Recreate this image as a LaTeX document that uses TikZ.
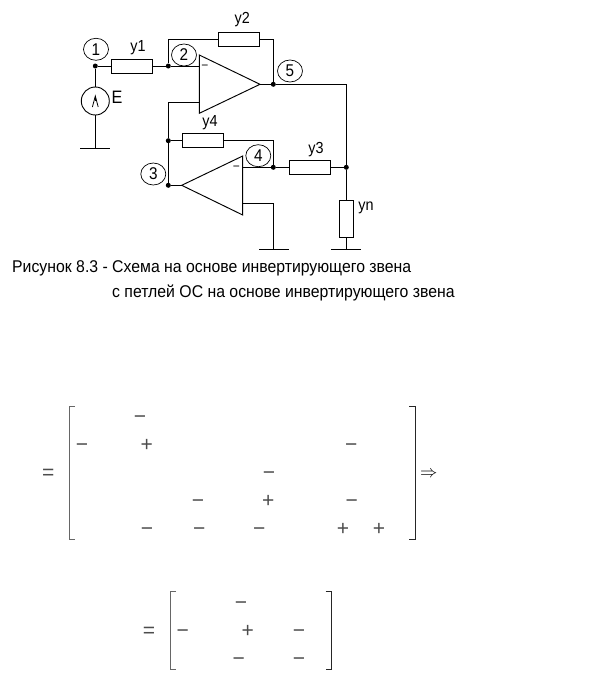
\documentclass[tikz,border=0pt]{standalone}
\usepackage{xcolor}
\usepackage{fontspec}
\setmainfont{Liberation Sans}
\newfontfamily\narrowfont[FakeStretch=0.9]{Liberation Sans}
\newfontfamily\capfont[FakeStretch=0.93]{Liberation Sans}
\tikzset{
  wire/.style={line width=0.95pt},
  dotnode/.style={circle,fill=black,inner sep=0pt,minimum size=5pt},
  resH/.style={draw,line width=0.95pt,fill=white,minimum width=41pt,minimum height=14pt,inner sep=0pt},
  resV/.style={draw,line width=0.95pt,fill=white,minimum width=14pt,minimum height=37pt,inner sep=0pt},
  tag/.style={draw,ellipse,line width=0.7pt,minimum width=25pt,minimum height=22pt,inner sep=0pt,font=\narrowfont\fontsize{17}{17}\selectfont},
  lab/.style={inner sep=0pt,font=\narrowfont\fontsize{16}{16}\selectfont},
  sgn/.style={inner sep=0pt,text height=14pt,text depth=0pt,font=\fontsize{21}{21}\selectfont,text=black!70},
  brk/.style={line width=0.9pt,draw=black!60}
}
\usetikzlibrary{shapes.geometric}
\begin{document}
\begin{tikzpicture}[x=1pt,y=-1pt]
\useasboundingbox (0,0) rectangle (602,673);

% junctions
\node[dotnode] (n1) at (95.3,66) {};
\node[dotnode] (n2) at (168.3,66) {};
\node[dotnode] (n5) at (273.3,84.3) {};
\node[dotnode] (n6) at (168.3,140.7) {};
\node[dotnode] (n3) at (168.3,185.3) {};
\node[dotnode] (n4) at (273.3,167.3) {};
\node[dotnode] (n7) at (346.3,167.3) {};

% resistors
\node[resH] (y1) at (131.8,66) {};
\node[resH] (y2) at (238.8,39.3) {};
\node[resH] (y4) at (203,140.7) {};
\node[resH] (y3) at (310,167.3) {};
\node[resV] (yn) at (346.3,218.8) {};

% source
\node[draw,circle,line width=0.9pt,minimum size=28pt,inner sep=0pt] (src) at (95.3,101) {};

% amplifiers
\coordinate (a1top) at (199.3,55);
\coordinate (a1bot) at (199.3,113.3);
\coordinate (a1out) at (260,84.3);
\coordinate (a1in) at (199.3,66);
\coordinate (a1fb) at (199.3,102.3);
\coordinate (a2top) at (242.7,156);
\coordinate (a2bot) at (242.7,215);
\coordinate (a2out) at (181.7,185.3);
\coordinate (a2in) at (242.7,167.3);
\coordinate (a2ref) at (242.7,203);
\draw[wire] (a1top) -- (a1bot) -- (a1out) -- cycle;
\draw[wire] (a2top) -- (a2bot) -- (a2out) -- cycle;
\node[inner sep=0pt,text height=7pt,text depth=0pt,font=\fontsize{12}{12}\selectfont] (m1) at (205,66) {−};
\node[inner sep=0pt,text height=7pt,text depth=0pt,font=\fontsize{12}{12}\selectfont] (m2) at (236.5,167.3) {−};

% grounds
\coordinate (g1) at (95.3,148.7);
\coordinate (g1a) at (80,148.7);
\coordinate (g1b) at (109.7,148.7);
\coordinate (g2) at (273.3,249.3);
\coordinate (g2a) at (259,249.3);
\coordinate (g2b) at (289,249.3);
\coordinate (g3) at (346.3,249.3);
\coordinate (g3a) at (331,249.3);
\coordinate (g3b) at (361,249.3);
\draw[line width=1.5pt] (g1a) -- (g1b);
\draw[line width=1.5pt] (g2a) -- (g2b);
\draw[line width=1.5pt] (g3a) -- (g3b);

% wires
\draw[wire] (n1) -- (y1) (y1) -- (n2) -- (a1in);
\draw[wire] (n1) -- (src) (src) -- (g1);
\draw[wire] (n2) |- (y2) (y2) -| (n5);
\draw[wire] (a1out) -- (n5);
\draw[wire] (n5) -| (n7);
\draw[wire] (a1fb) -| (n6) -- (n3) -- (a2out);
\draw[wire] (n6) -- (y4) (y4) -| (n4);
\draw[wire] (a2in) -- (n4) -- (y3) (y3) -- (n7) -- (yn) (yn) -- (g3);
\draw[wire] (a2ref) -| (g2);

% arrow of the source
\coordinate (s1) at (95.3,96);
\coordinate (s2) at (92.4,107);
\coordinate (s3) at (98.2,107);
\draw[line width=0.8pt] (s2) -- (s1) -- (s3);
\draw[line width=1.6pt] (s1) -- (src.center);

% tags
\node[tag] (t1) at (96,49.3) {1};
\node[tag] (t2) at (184,55) {2};
\node[tag] (t3) at (153.3,174) {3};
\node[tag] (t4) at (258.3,155.7) {4};
\node[tag] (t5) at (290,71) {5};

% names
\node[lab,font=\narrowfont\fontsize{18}{18}\selectfont] (lE) at (117,97.7) {E};
\node[lab] (l1) at (138,48) {y1};
\node[lab] (l2) at (242.3,20) {y2};
\node[lab] (l4) at (210,123) {y4};
\node[lab] (l3) at (316,149.7) {y3};
\node[lab] (ln) at (366,208) {yn};

% caption
\node[anchor=west,inner sep=0pt,font=\capfont\fontsize{17}{17}\selectfont] (cap1) at (12,268.5) {Рисунок 8.3 - Схема на основе инвертирующего звена};
\node[anchor=west,inner sep=0pt,font=\capfont\fontsize{17}{17}\selectfont] (cap2) at (112,292.5) {с петлей ОС на основе инвертирующего звена};

% first matrix
\node[sgn] (eq1) at (48.3,472.3) {=};
\draw[brk] (75,406.7) -- (69.3,406.7) -- (69.3,539.3) -- (75,539.3);
\draw[brk,draw=black!85] (409.3,406.7) -- (415.7,406.7) -- (415.7,539.3) -- (409.3,539.3);
\node[sgn] (a12) at (140,416.7) {−};
\node[sgn] (a21) at (82,444.3) {−};
\node[sgn] (a22) at (146.7,444.3) {+};
\node[sgn] (a25) at (351.3,444.3) {−};
\node[sgn] (a34) at (269,472.3) {−};
\node[sgn] (a43) at (198,500.3) {−};
\node[sgn] (a44) at (268.3,500.3) {+};
\node[sgn] (a45) at (351.7,500.3) {−};
\node[sgn] (a52) at (147,528.3) {−};
\node[sgn] (a53) at (199.3,528.3) {−};
\node[sgn] (a54) at (259.3,528.3) {−};
\node[sgn] (a55) at (343,528.3) {+};
\node[sgn] (a56) at (379,528.3) {+};
\node[inner sep=0pt,font=\fontsize{17}{17}\selectfont] (impl) at (428.7,474.5) {$\Rightarrow$};

% second matrix
\node[sgn] (eq2) at (149,630.7) {=};
\draw[brk] (176,591.7) -- (170.3,591.7) -- (170.3,669.3) -- (176,669.3);
\draw[brk,draw=black!85] (325.7,591.7) -- (331.7,591.7) -- (331.7,669.3) -- (325.7,669.3);
\node[sgn] (b12) at (241,602.7) {−};
\node[sgn] (b21) at (182.7,630.7) {−};
\node[sgn] (b22) at (247.7,630.7) {+};
\node[sgn] (b23) at (299,630.7) {−};
\node[sgn] (b32) at (238.7,658.7) {−};
\node[sgn] (b33) at (299,658.7) {−};
\end{tikzpicture}
\end{document}
